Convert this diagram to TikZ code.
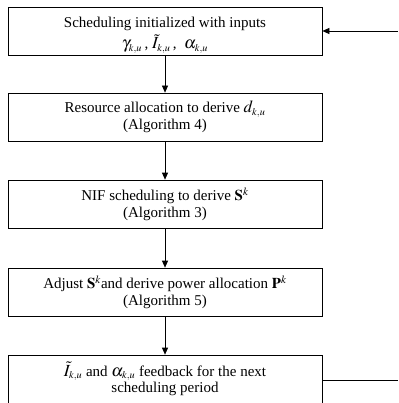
\documentclass[tikz,border=0pt]{standalone}
\usepackage{mathptmx}
\usepackage{fontspec}
\setmainfont{Liberation Serif}
\usepackage{tikz}
\usetikzlibrary{arrows.meta}
% large italic symbol with a small k,u index
\newcommand{\symku}[1]{\mbox{\fontsize{17}{17}\selectfont$#1_{\scriptscriptstyle k,u}$}}

\begin{document}
\begin{tikzpicture}[
  x=1pt, y=-1pt,
  stage/.style={draw, line width=0.7pt, minimum width=314pt,
    minimum height=48pt, inner sep=0pt, align=center,
    font={\fontsize{15}{16.5}\selectfont}},
  flow/.style={-{Triangle[length=7pt,width=6pt]}, line width=0.7pt},
  ]
  % Frame of the picture
  \useasboundingbox (0,0) rectangle (398,403);
  \clip (0,0) rectangle (398,403);
  % Stages
  \node[stage] (init) at (165,31)
    {\rule{0pt}{19pt}Scheduling initialized with inputs\\[3pt]
     \symku{\gamma}\,,\ \symku{\tilde{I}}\,,\ \ \symku{\alpha}};
  \node[stage] (alloc) at (165,117)
    {Resource allocation to derive \symku{d}\\(Algorithm 4)};
  \node[stage] (nif) at (165,204)
    {NIF scheduling to derive $\mathbf{S}^{k}$\\(Algorithm 3)};
  \node[stage] (adjust) at (165,292)
    {Adjust $\mathbf{S}^{k}$and derive power allocation $\mathbf{P}^{k}$\\(Algorithm 5)};
  \node[stage, minimum height=50pt] (feedback) at (165,380)
    {\symku{\tilde{I}} and \symku{\alpha} feedback for the next\\scheduling period\rule[-5pt]{0pt}{5pt}};
  % Flow between stages
  \draw[flow] (init) -- (alloc);
  \draw[flow] (alloc) -- (nif);
  \draw[flow] (nif) -- (adjust);
  \draw[flow] (adjust) -- (feedback);
  % Loop ends at the right border
  \coordinate (loopin) at (398,31);
  \coordinate (loopout) at (398,380);
  \draw[flow] (loopin) -- (init.east);
  \draw[line width=0.7pt] (feedback.east) -- (loopout);
\end{tikzpicture}
\end{document}
